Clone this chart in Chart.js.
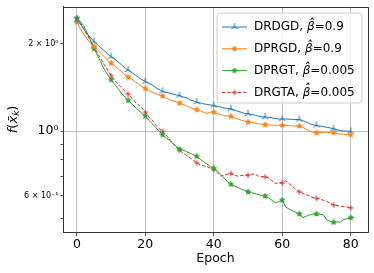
<!DOCTYPE html>
<html><head><meta charset="utf-8">
<script src="https://cdn.jsdelivr.net/npm/chart.js@4/dist/chart.umd.min.js"></script>
<style>html,body{margin:0;padding:0;background:#fff}canvas{display:block}</style>
</head><body>
<canvas id="c" width="374" height="273" style="width:374px;height:273px"></canvas>
<script>
// ---- data ----
const seriesNames = ['DRDGD', 'DPRGD', 'DPRGT', 'DRGTA'];
const seriesBetas = ['0.9', '0.9', '0.005', '0.005'];
const xTicks = [0, 20, 40, 60, 80];
const yTicks = [0.5, 0.6, 0.7, 0.8, 0.9, 1, 2];
const yTickLabels = {0.6: '6 × 10⁻¹', 1: '10⁰', 2: '2 × 10⁰'};

const drdgd = [2.40,2.33,2.24,2.16,2.09,2.03,1.98,1.93,1.89,1.84,1.80,1.77,1.73,1.69,1.65,1.62,1.59,1.56,1.53,1.50,
1.48,1.46,1.44,1.41,1.39,1.37,1.36,1.35,1.34,1.33,1.325,1.31,1.30,1.28,1.27,1.257,1.25,1.24,1.235,1.23,
1.224,1.215,1.21,1.20,1.195,1.193,1.18,1.17,1.16,1.15,1.147,1.14,1.135,1.125,1.12,1.117,1.115,1.11,1.105,1.10,
1.102,1.10,1.098,1.097,1.095,1.096,1.085,1.075,1.06,1.05,1.046,1.04,1.035,1.03,1.025,1.019,1.01,1.005,1.0,1.0,0.998];
const dprgd = [2.37,2.25,2.15,2.07,2.00,1.95,1.90,1.85,1.80,1.75,1.71,1.68,1.64,1.60,1.56,1.53,1.51,1.48,1.45,1.42,
1.40,1.38,1.36,1.345,1.33,1.318,1.30,1.285,1.27,1.26,1.247,1.235,1.22,1.205,1.195,1.184,1.175,1.16,1.15,1.16,
1.161,1.15,1.14,1.13,1.125,1.123,1.11,1.10,1.09,1.08,1.073,1.07,1.065,1.06,1.055,1.052,1.05,1.048,1.047,1.046,
1.046,1.045,1.043,1.042,1.041,1.040,1.03,1.015,1.0,0.99,0.987,0.988,0.99,0.99,0.988,0.987,0.98,0.977,0.975,0.973,0.972];
const dprgt = [2.44,2.38,2.30,2.18,2.05,1.92,1.82,1.72,1.63,1.56,1.50,1.45,1.40,1.35,1.31,1.274,1.24,1.21,1.18,1.15,
1.125,1.09,1.06,1.03,1.00,0.972,0.95,0.93,0.91,0.885,0.866,0.86,0.85,0.84,0.83,0.819,0.80,0.785,0.77,0.755,
0.745,0.73,0.71,0.69,0.67,0.656,0.648,0.64,0.632,0.625,0.618,0.614,0.61,0.605,0.60,0.598,0.59,0.578,0.567,0.572,
0.579,0.548,0.54,0.532,0.525,0.519,0.504,0.51,0.515,0.518,0.519,0.518,0.516,0.495,0.49,0.486,0.487,0.487,0.497,0.50,0.504,0.506];
const drgta = [2.45,2.36,2.25,2.14,2.04,1.94,1.85,1.77,1.69,1.62,1.55,1.50,1.45,1.41,1.37,1.339,1.30,1.26,1.23,1.20,
1.16,1.12,1.09,1.05,1.02,0.998,0.97,0.94,0.91,0.88,0.859,0.84,0.825,0.81,0.795,0.778,0.765,0.76,0.755,0.745,
0.738,0.72,0.701,0.705,0.71,0.715,0.705,0.70,0.703,0.706,0.705,0.71,0.713,0.70,0.698,0.696,0.69,0.675,0.661,0.663,
0.664,0.675,0.66,0.645,0.63,0.618,0.61,0.605,0.598,0.59,0.587,0.585,0.578,0.573,0.565,0.557,0.555,0.552,0.55,0.548,0.545];

// ---- markers ----
function marker(type, color) {
  const s = 10, c = document.createElement('canvas');
  c.width = s; c.height = s;
  const g = c.getContext('2d');
  const m = s / 2;
  g.strokeStyle = color; g.fillStyle = color; g.lineWidth = 1;
  if (type === 'tri') {
    const r = 3.8;
    g.beginPath();
    g.moveTo(m, m); g.lineTo(m, m - r);
    g.moveTo(m, m); g.lineTo(m - r * 0.866, m + r * 0.5);
    g.moveTo(m, m); g.lineTo(m + r * 0.866, m + r * 0.5);
    g.stroke();
  } else if (type === 'star') {
    const R = 2.8, r = 1.2;
    g.lineWidth = 0.8;
    g.beginPath();
    for (let i = 0; i < 10; i++) {
      const a = -Math.PI / 2 + i * Math.PI / 5;
      const rr = i % 2 ? r : R;
      const x = m + rr * Math.cos(a), y = m + rr * Math.sin(a);
      i ? g.lineTo(x, y) : g.moveTo(x, y);
    }
    g.closePath(); g.fill(); g.stroke();
  } else if (type === 'plus') {
    const r = 2.7;
    g.beginPath();
    g.moveTo(m - r, m); g.lineTo(m + r, m);
    g.moveTo(m, m - r); g.lineTo(m, m + r);
    g.stroke();
  }
  return c;
}
const colors = ['#1f77b4', '#ff7f0e', '#2ca02c', '#d62728'];
const markerTypes = ['tri', 'star', 'star', 'plus'];
const dashes = [[], [], [], [3.5, 1.8]];
const markers = colors.map((c, i) => marker(markerTypes[i], c));
const allSeries = [drdgd, dprgd, dprgt, drgta];

const datasets = allSeries.map((arr, i) => ({
  label: seriesNames[i],
  data: arr.map((v, k) => ({x: k, y: v})),
  borderColor: colors[i],
  backgroundColor: colors[i],
  borderWidth: 1,
  borderDash: dashes[i],
  pointStyle: markers[i],
  pointRadius: ctx => (ctx.dataIndex % 5 === 0 ? 3 : 0),
  pointHoverRadius: 0,
  tension: 0,
  fill: false
}));

const FONT = 'DejaVu Sans';

const extras = {
  id: 'extras',
  afterDraw(chart) {
    const g = chart.ctx, a = chart.chartArea;
    g.save();
    // frame
    g.strokeStyle = '#333'; g.lineWidth = 1;
    g.strokeRect(Math.round(a.left) + 0.5, Math.round(a.top) + 0.5, Math.round(a.right - a.left), Math.round(a.bottom - a.top));
    // legend
    const bx = 217, by = 13, bw = 145, bh = 90, rad = 3;
    g.beginPath();
    g.moveTo(bx + rad, by); g.lineTo(bx + bw - rad, by); g.arcTo(bx + bw, by, bx + bw, by + rad, rad);
    g.lineTo(bx + bw, by + bh - rad); g.arcTo(bx + bw, by + bh, bx + bw - rad, by + bh, rad);
    g.lineTo(bx + rad, by + bh); g.arcTo(bx, by + bh, bx, by + bh - rad, rad);
    g.lineTo(bx, by + rad); g.arcTo(bx, by, bx + rad, by, rad); g.closePath();
    g.fillStyle = 'rgba(255,255,255,0.8)'; g.fill();
    g.strokeStyle = '#d0d0d0'; g.stroke();
    for (let i = 0; i < 4; i++) {
      const y = 27 + i * 21.8;
      g.strokeStyle = colors[i]; g.lineWidth = 1; g.setLineDash(dashes[i]);
      g.beginPath(); g.moveTo(222, y); g.lineTo(247, y); g.stroke();
      g.setLineDash([]);
      g.drawImage(markers[i], 234.5 - 5, y - 5);
      g.fillStyle = '#000'; g.textBaseline = 'middle'; g.textAlign = 'left';
      let x = 254;
      g.font = '12px ' + FONT;
      const t1 = seriesNames[i] + ', ';
      g.fillText(t1, x, y); x += g.measureText(t1).width;
      g.font = 'italic 12px ' + FONT;
      const t2 = 'β\u0302';
      g.fillText(t2, x, y); x += g.measureText('β').width;
      g.font = '12px ' + FONT;
      g.fillText('=' + seriesBetas[i], x, y);
    }
    // axis titles
    g.fillStyle = '#000';
    g.font = '12.5px ' + FONT; g.textAlign = 'center'; g.textBaseline = 'middle';
    g.fillText('Epoch', (a.left + a.right) / 2, 259);
    g.translate(14, (a.top + a.bottom) / 2);
    g.rotate(-Math.PI / 2);
    const parts = [['f', 'italic 13px ', 0], ['(', '13px ', 0], ['x\u0304', 'italic 13px ', 0], ['k', 'italic 9px ', 3], [')', '13px ', 0]];
    let tw = 0;
    parts.forEach(p => { g.font = p[1] + FONT; tw += g.measureText(p[0].charAt(0)).width; });
    let px = -tw / 2;
    g.textAlign = 'left';
    parts.forEach(p => { g.font = p[1] + FONT; g.fillText(p[0], px, p[2]); px += g.measureText(p[0].charAt(0)).width; });
    g.restore();
  }
};

new Chart(document.getElementById('c'), {
  type: 'line',
  data: {datasets},
  options: {
    responsive: false,
    animation: false,
    devicePixelRatio: 1,
    layout: {padding: {top: 6, right: 6, left: 0, bottom: 0}},
    plugins: {legend: {display: false}, tooltip: {enabled: false}},
    scales: {
      x: {
        type: 'linear', min: -4.05, max: 85.05,
        afterBuildTicks: s => { s.ticks = xTicks.map(v => ({value: v})); },
        afterFit: s => { s.height = 41; },
        grid: {color: '#b0b0b0', lineWidth: 0.8, tickColor: '#333', tickLength: 4, drawTicks: true},
        border: {display: true, color: '#333', width: 1},
        ticks: {color: '#000', font: {family: FONT, size: 12.5}, padding: 1, maxRotation: 0, autoSkip: false}
      },
      y: {
        type: 'logarithmic', min: 0.450, max: 2.672,
        afterBuildTicks: s => { s.ticks = yTicks.map(v => ({value: v, major: v === 1})); },
        afterFit: s => { s.width = 63; },
        grid: {
          color: ctx => (ctx.tick && ctx.tick.value === 1 ? '#b0b0b0' : 'rgba(0,0,0,0)'),
          lineWidth: 0.8, tickColor: '#333',
          tickLength: ctx => (ctx.tick && ctx.tick.value === 1 ? 4 : 2.5),
          drawTicks: true
        },
        border: {display: true, color: '#333', width: 1},
        ticks: {
          color: '#000', autoSkip: false, padding: 2,
          font: ctx => ({family: FONT, size: ctx.tick && ctx.tick.value === 1 ? 12.5 : 8}),
          callback: v => yTickLabels[v] || ''
        }
      }
    }
  },
  plugins: [extras]
});
</script>
</body></html>
